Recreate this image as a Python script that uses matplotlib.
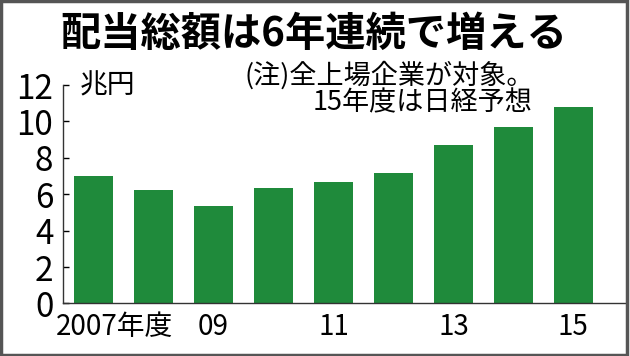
import matplotlib
matplotlib.use("Agg")
import matplotlib.pyplot as plt
import matplotlib.transforms as mtransforms
from matplotlib.patches import Rectangle

plt.rcParams['font.family'] = ['Noto Sans CJK JP', 'DejaVu Sans']

# data (兆円)
years = [2007, 2008, 2009, 2010, 2011, 2012, 2013, 2014, 2015]
dividends = [7.0, 6.25, 5.37, 6.37, 6.69, 7.17, 8.70, 9.71, 10.79]
xtick_pos = [0, 2, 4, 6, 8]
xtick_labels = ['2007年度', '09', '11', '13', '15']
yticks = [0, 2, 4, 6, 8, 10, 12]

title = '配当総額は6年連続で増える'
note1 = '(注)全上場企業が対象。'
note2 = '15年度は日経予想'
unit = '兆円'

fig = plt.figure(figsize=(6.3, 3.56), dpi=100)
ax = fig.add_axes([0.1, 0.1475, 0.892, 0.6135])

x = list(range(len(years)))
ax.bar(x, dividends, width=0.64, color='#1f8a3b')

ax.set_xlim(-0.507, 8.86)
ax.set_ylim(0, 12)
ax.set_yticks(yticks)
ax.set_xticks(xtick_pos)
ax.set_xticklabels(xtick_labels, fontsize=20)
ax.set_yticklabels([str(v) for v in yticks], fontsize=24)

ax.tick_params(axis='y', direction='in', length=4, width=1, pad=7, colors='black')
ax.tick_params(axis='x', length=0, pad=6)

for s in ['top', 'right']:
    ax.spines[s].set_visible(False)
ax.spines['left'].set_linewidth(1)
ax.spines['bottom'].set_linewidth(1)
ax.spines['left'].set_color('#333333')
ax.spines['bottom'].set_color('#333333')

# first label starts left of the first bar
lab0 = ax.get_xticklabels()[0]
lab0.set_horizontalalignment('left')
lab0.set_transform(lab0.get_transform() + mtransforms.ScaledTranslation(-38 / 100, 0, fig.dpi_scale_trans))

ax.text(0.03, 1.0, unit, transform=ax.transAxes, fontsize=20, va='center', ha='left')

fig.text(0.4976, 0.902, title, fontsize=29, fontweight='bold', ha='center', va='center')
fig.text(0.847, 0.789, note1, fontsize=19.5, ha='right', va='center')
fig.text(0.845, 0.712, note2, fontsize=19.5, ha='right', va='center')

fig.patches.append(Rectangle((0.002, 0.004), 0.994, 0.992, transform=fig.transFigure,
                             fill=False, edgecolor='#555555', linewidth=2.5))

fig.savefig('out.png', dpi=100)
